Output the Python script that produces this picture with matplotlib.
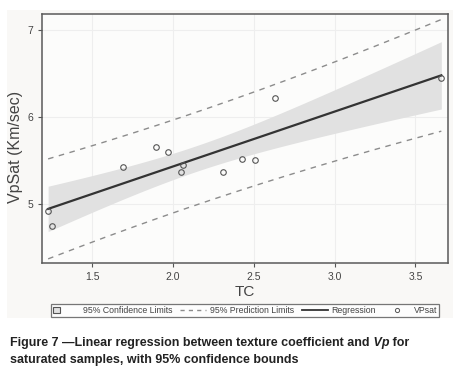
import numpy as np
import matplotlib
matplotlib.use("Agg")
import matplotlib.pyplot as plt
from matplotlib.lines import Line2D
from matplotlib.patches import Patch, Rectangle

# texture coefficient vs saturated Vp
tc = [1.228, 1.25, 1.69, 1.895, 1.967, 2.06, 2.05, 2.31, 2.43, 2.51, 2.63, 3.66]
vpsat = [4.92, 4.74, 5.42, 5.65, 5.60, 5.45, 5.36, 5.37, 5.52, 5.50, 6.22, 6.45]

x_ticks = [1.5, 2.0, 2.5, 3.0, 3.5]
y_ticks = [5, 6, 7]
legend_labels = ["95% Confidence Limits", "95% Prediction Limits", "Regression", "VPsat"]
T_CRIT = 2.228  # t(0.975, 10 df)

plt.rcParams['font.family'] = ['Liberation Sans', 'DejaVu Sans']

x = np.array(tc)
y = np.array(vpsat)
n = len(x)
slope, icpt = np.polyfit(x, y, 1)
resid = y - (icpt + slope * x)
s = np.sqrt(np.sum(resid ** 2) / (n - 2))
sxx = np.sum((x - x.mean()) ** 2)

xs = np.linspace(x.min(), x.max(), 200)
fit = icpt + slope * xs
se_mean = s * np.sqrt(1.0 / n + (xs - x.mean()) ** 2 / sxx)
se_pred = s * np.sqrt(1.0 + 1.0 / n + (xs - x.mean()) ** 2 / sxx)

fig = plt.figure(figsize=(4.67, 3.74), dpi=100)
fig.patches.append(Rectangle((7 / 467, 56 / 374), 446 / 467, 308 / 374,
                             transform=fig.transFigure, facecolor='#f9f8f6',
                             edgecolor='none', zorder=-10))

ax = fig.add_axes([0.0899, 0.2968, 0.869, 0.6658])
ax.set_facecolor('#fcfcfb')

ax.fill_between(xs, fit - T_CRIT * se_mean, fit + T_CRIT * se_mean,
                color='#e1e1e1', linewidth=0, zorder=1)
ax.plot(xs, fit + T_CRIT * se_pred, color='#8c8c8c', lw=1.0, ls=(0, (4, 4)), zorder=2)
ax.plot(xs, fit - T_CRIT * se_pred, color='#8c8c8c', lw=1.0, ls=(0, (4, 4)), zorder=2)
ax.plot(xs, fit, color='#333333', lw=1.6, zorder=3)
ax.plot(x, y, 'o', mfc='none', mec='#555555', mew=0.8, ms=4, zorder=4)

ax.set_xlim(1.19, 3.70)
ax.set_ylim(4.32, 7.18)
ax.set_xticks(x_ticks)
ax.set_yticks(y_ticks)
ax.set_xticklabels([f"{v:.1f}" for v in x_ticks])
ax.tick_params(labelsize=7.5, colors='#555555', labelcolor='#444444', length=3, width=0.8)
ax.grid(True, color='#eeeeee', lw=0.8)
ax.set_axisbelow(True)
for sp in ax.spines.values():
    sp.set_color('#5a5a5a')
    sp.set_linewidth(1.1)

ax.set_xlabel("TC", fontsize=11, color='#444444', labelpad=2)
ax.set_ylabel("VpSat (Km/sec)", fontsize=11.5, color='#444444')
ax.yaxis.set_label_coords(-0.047, 0.466)

handles = [
    Patch(facecolor='#e1e1e1', edgecolor='#555555', linewidth=0.8),
    Line2D([], [], color='#8c8c8c', lw=1.0, ls=(0, (3, 3))),
    Line2D([], [], color='#333333', lw=1.3),
    Line2D([], [], ls='none', marker='o', mfc='none', mec='#555555', mew=0.7, ms=3),
]
leg = fig.legend(handles, legend_labels, loc='center', ncol=4,
                 bbox_to_anchor=(245 / 467, 1 - 310.5 / 374), fontsize=6.3,
                 frameon=True, fancybox=False, edgecolor='#555555',
                 handlelength=3.0, handleheight=0.8, handletextpad=0.4,
                 columnspacing=0.9, borderpad=0.2, labelcolor='#444444')
leg.get_frame().set_linewidth(0.9)
leg.legend_handles[0].set_width(5)

cap_kw = dict(fontsize=9, fontweight='bold', color='#222222', va='bottom')
t1 = fig.text(10 / 467, 1 - 349 / 374,
              "Figure 7 \u2014Linear regression between texture coefficient and", **cap_kw)
t2 = ax.annotate(" Vp", xy=(1, 0), xycoords=t1, style='italic', **cap_kw)
t3 = ax.annotate(" for", xy=(1, 0), xycoords=t2, **cap_kw)
fig.text(10 / 467, 1 - 366 / 374,
         "saturated samples, with 95% confidence bounds", **cap_kw)

fig.savefig("out.png", dpi=100)
